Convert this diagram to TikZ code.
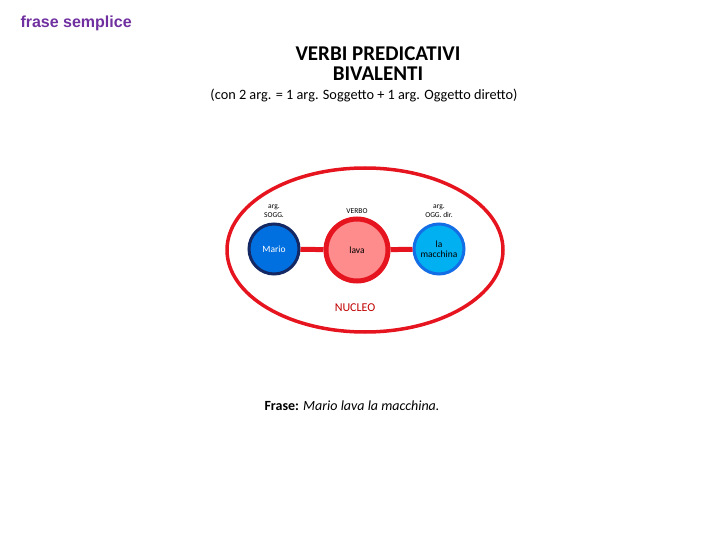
\documentclass[tikz,border=0pt]{standalone}
\usepackage{fontspec}
\setmainfont{Carlito}
\newfontfamily\arialfont{Liberation Sans}
\usetikzlibrary{positioning}
\definecolor{viola}{RGB}{112,48,160}
\definecolor{rosso}{RGB}{230,20,30}
\definecolor{rossoscuro}{RGB}{192,0,0}
\definecolor{rosa}{RGB}{255,140,140}
\definecolor{blu}{RGB}{0,112,224}
\definecolor{blunotte}{RGB}{20,40,100}
\definecolor{azzurro}{RGB}{0,176,240}
\definecolor{bluchiaro}{RGB}{20,110,230}
\tikzset{
  argnode/.style={circle,inner sep=0pt,align=center,font=\fontsize{9.5}{10.5}\selectfont},
  toplabel/.style={align=center,font=\fontsize{7.5}{8.5}\selectfont},
  legame/.style={rosso,line width=5pt}
}
\begin{document}
\begin{tikzpicture}[x=1pt,y=-1pt]
\useasboundingbox (0,0) rectangle (720,540);
\node[anchor=west,text=viola,font=\arialfont\bfseries\fontsize{16}{18}\selectfont] (titolo) at (17,23) {frase semplice};
\node[align=center,font=\bfseries\fontsize{21}{20}\selectfont] (verbi) at (378,64) {VERBI PREDICATIVI\\BIVALENTI};
\node[font=\fontsize{14.3}{16}\selectfont] (spiega) at (364,96) {(con 2 arg. = 1 arg. Soggetto + 1 arg. Oggetto diretto)};
\draw[rosso,line width=3.5pt] (365,250) ellipse (138 and 82);
\node[argnode,minimum size=50pt,fill=blu,draw=blunotte,line width=3pt,text=white] (mario) at (274,249) {Mario};
\node[argnode,minimum size=62pt,fill=rosa,draw=rosso,line width=5pt] (lava) at (357,250) {lava};
\node[argnode,minimum size=50pt,fill=azzurro,draw=bluchiaro,line width=3pt] (macchina) at (439,249) {la\\macchina};
\draw[legame] (mario) -- (lava);
\draw[legame] (lava) -- (macchina);
\node[toplabel] (sogg) at (274,211) {arg.\\SOGG.};
\node[toplabel] (verbo) at (357,211) {VERBO};
\node[toplabel] (ogg) at (439,211) {arg.\\OGG. dir.};
\node[text=rossoscuro,font=\fontsize{12}{14}\selectfont] (nucleo) at (355,308) {NUCLEO};
\node[font=\fontsize{14}{16}\selectfont] (frase) at (352,406) {\textbf{Frase:} \textit{Mario lava la macchina.}};
\end{tikzpicture}
\end{document}
